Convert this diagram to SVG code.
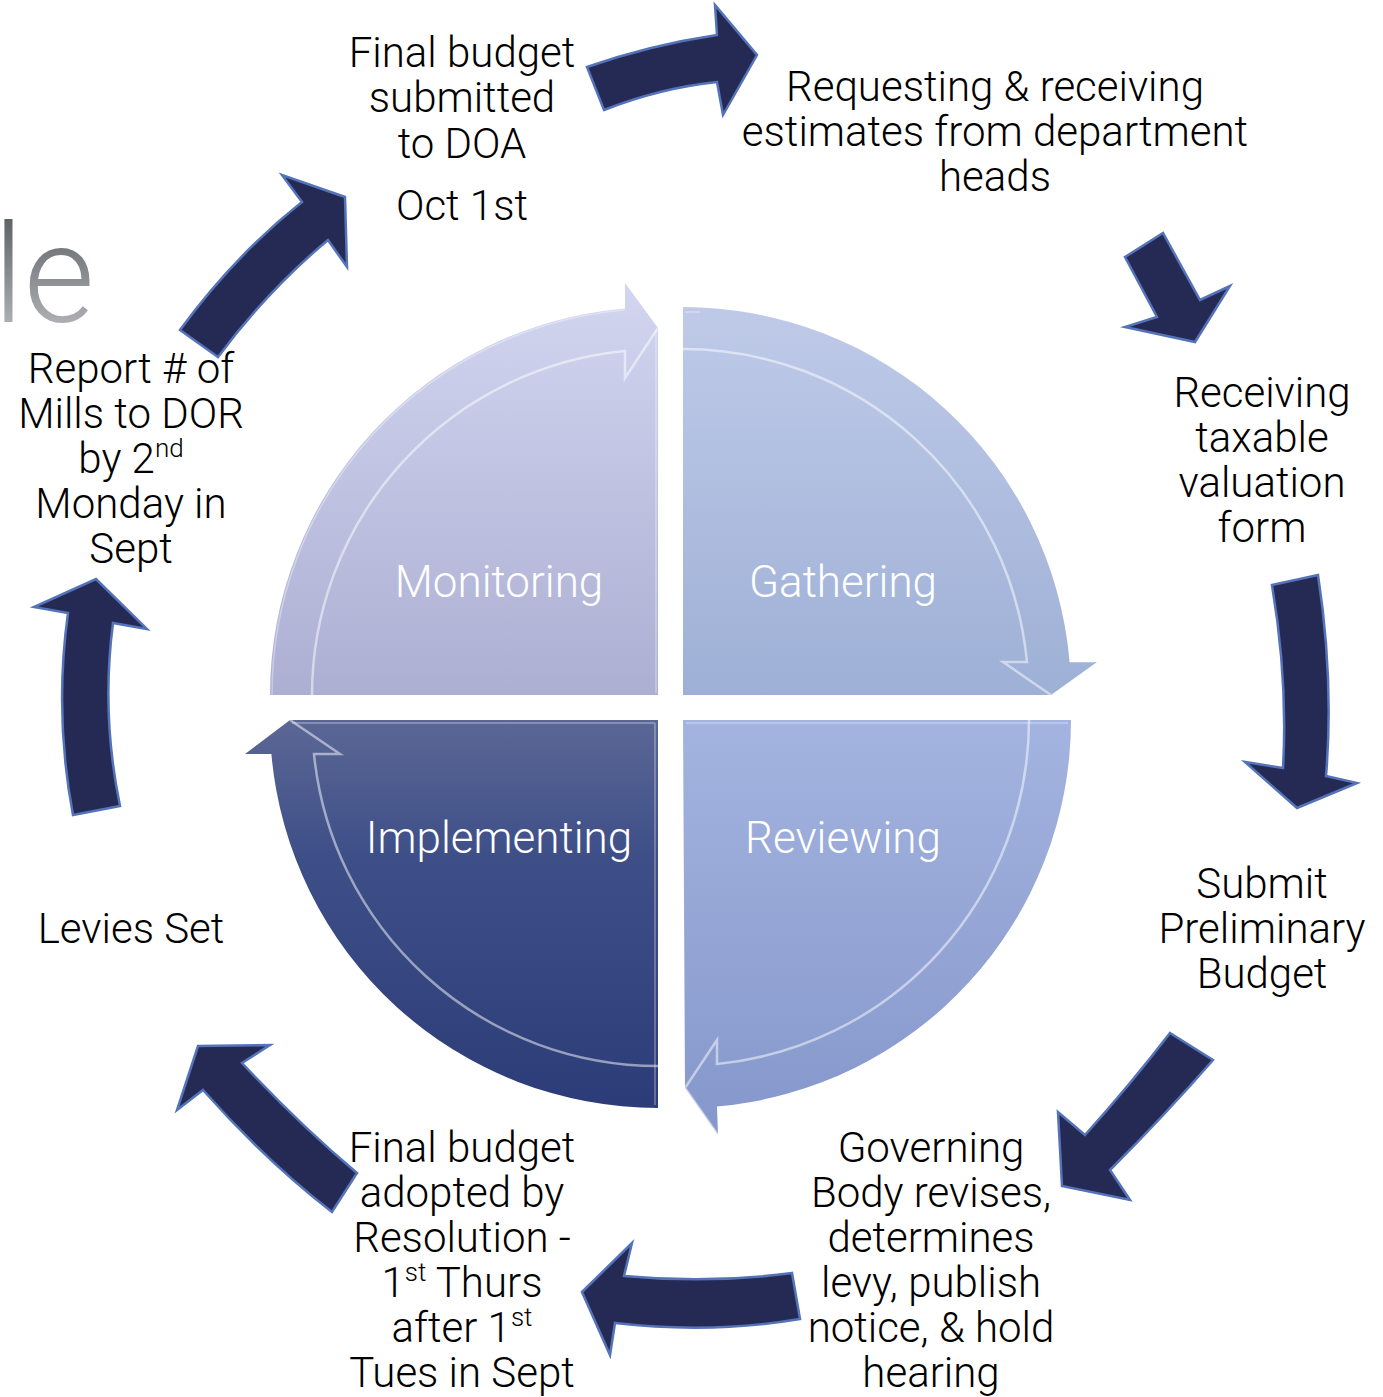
<svg xmlns="http://www.w3.org/2000/svg" width="1383" height="1397" viewBox="0 0 1383 1397">
  <defs>
    <linearGradient id="gTL" x1="0" y1="0" x2="0" y2="1">
      <stop offset="0" stop-color="#d2d6f0"/>
      <stop offset="1" stop-color="#acafd2"/>
    </linearGradient>
    <linearGradient id="gTR" x1="0" y1="0" x2="0" y2="1">
      <stop offset="0" stop-color="#bfcae8"/>
      <stop offset="1" stop-color="#9eb0d6"/>
    </linearGradient>
    <linearGradient id="gBL" x1="0" y1="0" x2="0" y2="1">
      <stop offset="0" stop-color="#5b6795"/>
      <stop offset="0.35" stop-color="#3e4f88"/>
      <stop offset="1" stop-color="#2b3c78"/>
    </linearGradient>
    <linearGradient id="gBR" x1="0" y1="0" x2="0" y2="1">
      <stop offset="0" stop-color="#a4b4e0"/>
      <stop offset="1" stop-color="#8597cb"/>
    </linearGradient>
    <linearGradient id="gLe" x1="0" y1="0" x2="0" y2="1">
      <stop offset="0" stop-color="#4e5156"/>
      <stop offset="1" stop-color="#c4c6ca"/>
    </linearGradient>
  </defs>
  <style>
    .lbl { font-family: Roboto, "Liberation Sans", sans-serif; font-weight: 300; font-size: 42px; fill: #000; text-anchor: middle; }
    .sup { font-size: 26px; }
    .quad { font-family: Roboto, "Liberation Sans", sans-serif; font-weight: 300; font-size: 44px; fill: #ffffff; text-anchor: middle; }
    .step { fill: #252a55; stroke: #5473b8; stroke-width: 2.5; stroke-linejoin: miter; }
    .bevel { fill: none; stroke: #ffffff; stroke-opacity: 0.5; stroke-width: 2.5; }
    .shade { fill: none; stroke: #ffffff; stroke-opacity: 0.35; stroke-width: 1.5; }
  </style>

  <!-- partial title word at the left edge -->
  <text x="-7" y="322" font-family="Roboto, 'Liberation Sans', sans-serif" font-weight="300" font-size="137" fill="url(#gLe)">le</text>

  <!-- central cycle: four quadrants -->
  <g id="monitoring">
    <path d="M270,695 A388,388 0 0 1 625,308.4 L625,283 L658,328 L658,695 Z" fill="url(#gTL)"/>
    <path class="bevel" d="M312,695 A346,346 0 0 1 625,351 L625,378 L658,328"/>
    <path class="shade" d="M272,695 A386,386 0 0 1 625,310 M656,330 L656,693"/>
    <text class="quad" x="499" y="597">Monitoring</text>
  </g>
  <g id="gathering">
    <path d="M683,307 A388,388 0 0 1 1069.6,662 L1097,662 L1051,695 L683,695 Z" fill="url(#gTR)"/>
    <path class="bevel" d="M683,349 A346,346 0 0 1 1027,662 L1003,662 L1051,695"/>
    <path class="shade" d="M685,312 L700,312 M1069.6,662 L1095,662"/>
    <text class="quad" x="843" y="597">Gathering</text>
  </g>
  <g id="implementing">
    <path d="M658,720 L658,1108 A388,388 0 0 1 271.4,754 L245,754 L290,720 Z" fill="url(#gBL)"/>
    <path class="bevel" d="M658,1066 A346,346 0 0 1 314,754 L340,754 L290,720"/>
    <path class="shade" d="M292,723 L655,723 M655,723 L655,1105"/>
    <text class="quad" x="499" y="853">Implementing</text>
  </g>
  <g id="reviewing">
    <path d="M683,720 L1071,720 A388,388 0 0 1 717,1106.5 L718,1135 L685,1088 Z" fill="url(#gBR)"/>
    <path class="bevel" d="M1029,720 A346,346 0 0 1 717,1064 L717,1040 L685,1088 L718,1135"/>
    <path class="shade" d="M686,723 L1068,723"/>
    <text class="quad" x="843" y="853">Reviewing</text>
  </g>

  <!-- outer process steps -->
  <g id="step-final-budget-submitted">
    <text class="lbl" x="462" y="67">Final budget</text>
    <text class="lbl" x="462" y="112">submitted</text>
    <text class="lbl" x="462" y="158">to DOA</text>
    <text class="lbl" x="462" y="220">Oct 1st</text>
  </g>
  <g id="step-requesting-estimates">
    <text class="lbl" x="995" y="101">Requesting &amp; receiving</text>
    <text class="lbl" x="995" y="146">estimates from department</text>
    <text class="lbl" x="995" y="191">heads</text>
  </g>
  <g id="step-taxable-valuation">
    <text class="lbl" x="1262" y="407">Receiving</text>
    <text class="lbl" x="1262" y="452">taxable</text>
    <text class="lbl" x="1262" y="497">valuation</text>
    <text class="lbl" x="1262" y="542">form</text>
  </g>
  <g id="step-preliminary-budget">
    <text class="lbl" x="1262" y="898">Submit</text>
    <text class="lbl" x="1262" y="943">Preliminary</text>
    <text class="lbl" x="1262" y="988">Budget</text>
  </g>
  <g id="step-governing-body">
    <text class="lbl" x="931" y="1162">Governing</text>
    <text class="lbl" x="931" y="1207">Body revises,</text>
    <text class="lbl" x="931" y="1252">determines</text>
    <text class="lbl" x="931" y="1297">levy, publish</text>
    <text class="lbl" x="931" y="1342">notice, &amp; hold</text>
    <text class="lbl" x="931" y="1387">hearing</text>
  </g>
  <g id="step-final-budget-adopted">
    <text class="lbl" x="462" y="1162">Final budget</text>
    <text class="lbl" x="462" y="1207">adopted by</text>
    <text class="lbl" x="462" y="1252">Resolution -</text>
    <text class="lbl" x="462" y="1297">1<tspan class="sup" dy="-16">st</tspan><tspan dy="16"> Thurs</tspan></text>
    <text class="lbl" x="462" y="1342">after 1<tspan class="sup" dy="-16">st</tspan></text>
    <text class="lbl" x="462" y="1387">Tues in Sept</text>
  </g>
  <g id="step-levies-set">
    <text class="lbl" x="131" y="943">Levies Set</text>
  </g>
  <g id="step-report-mills">
    <text class="lbl" x="131" y="383">Report # of</text>
    <text class="lbl" x="131" y="428">Mills to DOR</text>
    <text class="lbl" x="131" y="473">by 2<tspan class="sup" dy="-16">nd</tspan></text>
    <text class="lbl" x="131" y="518">Monday in</text>
    <text class="lbl" x="131" y="563">Sept</text>
  </g>

  <!-- connectors between steps -->
  <g id="connectors">
    <path class="step" d="M587,67 Q650,45 717,35 L715,5 L757,55 L723,115 L717,82 Q660,88 604,110 Z"/>
    <path class="step" d="M1125,257 L1163,233 L1200,300 L1230,286 L1195,342 L1125,327 L1157,317 Z"/>
    <path class="step" d="M1272,585 Q1288,680 1283,768 L1245,762 L1297,808 L1357,783 L1326,776 Q1334,680 1318,575 Z"/>
    <path class="step" d="M1170,1033 L1213,1060 Q1165,1115 1110,1170 L1130,1200 L1062,1186 L1058,1112 L1085,1135 Q1130,1085 1170,1033 Z"/>
    <path class="step" d="M582,1292 L632,1243 L624,1276 Q710,1284 792,1273 L800,1319 Q710,1334 615,1323 L610,1355 Z"/>
    <path class="step" d="M198,1046 L270,1045 L242,1063 Q300,1125 357,1173 L332,1212 Q265,1160 203,1090 L177,1110 Z"/>
    <path class="step" d="M73,815 Q54,714 68,613 L34,607 L96,579 L147,629 L113,623 Q101,714 120,806 Z"/>
    <path class="step" d="M180,330 Q235,255 302,202 L282,175 L345,197 L347,267 L328,240 Q268,290 218,357 Z"/>
  </g>
</svg>
